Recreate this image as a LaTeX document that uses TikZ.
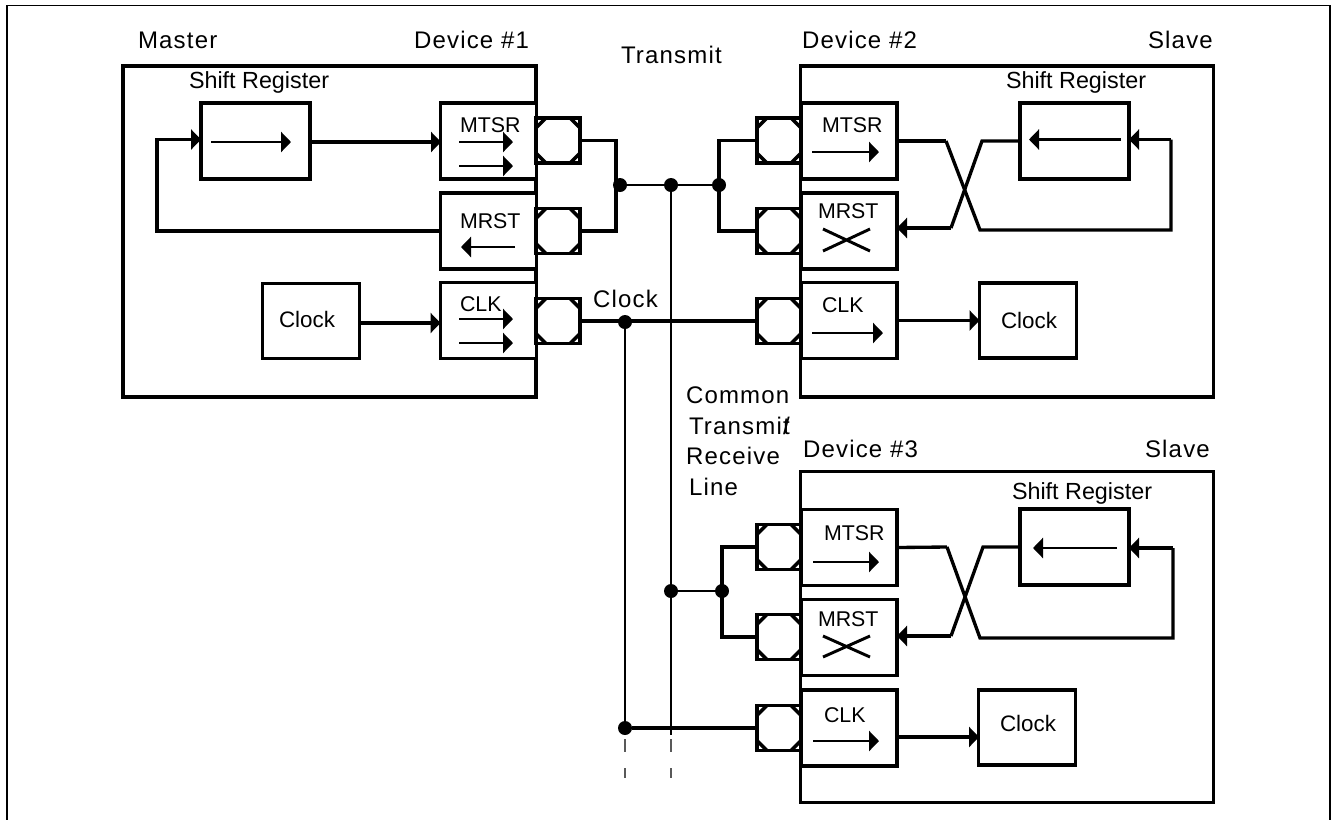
\documentclass[tikz,border=0pt]{standalone}
\usepackage{fontspec}
\setmainfont{Liberation Sans}
\usetikzlibrary{arrows.meta}
\tikzset{
  x=0.75pt,y=-0.75pt,
  wire/.style={line width=2.5pt,line join=miter},
  bus/.style={line width=2.1pt},
  arr/.style={line width=2.4pt,-{Triangle[length=7.5pt,width=15pt,sep=0pt]}},
  inner/.style={line width=2.2pt,-{Triangle[length=7.5pt,width=15pt]}},
  cross/.style={line width=2.2pt},
  devbox/.style={draw,line width=2.6pt,fill=white,minimum width=309.75pt,minimum height=248.25pt,inner sep=0pt,outer sep=0pt},
  regbox/.style={draw,line width=2.6pt,fill=white,minimum width=72pt,minimum height=57pt,inner sep=0pt,outer sep=0pt},
  srbox/.style={draw,line width=2.6pt,fill=white,minimum width=81.75pt,minimum height=57pt,inner sep=0pt,outer sep=0pt},
  clkbox/.style={draw,line width=2.6pt,fill=white,minimum width=72.75pt,minimum height=56.5pt,inner sep=0pt,outer sep=0pt},
  port/.style={draw,line width=2.6pt,fill=white,minimum width=33pt,minimum height=34pt,inner sep=0pt,outer sep=0pt,
    path picture={
      \draw[line width=2.6pt]
      ([xshift=7.5pt]path picture bounding box.south west)--([yshift=7.5pt]path picture bounding box.south west)
      ([xshift=-7.5pt]path picture bounding box.south east)--([yshift=7.5pt]path picture bounding box.south east)
      ([xshift=7.5pt]path picture bounding box.north west)--([yshift=-7.5pt]path picture bounding box.north west)
      ([xshift=-7.5pt]path picture bounding box.north east)--([yshift=-7.5pt]path picture bounding box.north east);
    }},
  dotn/.style={circle,fill=black,draw=none,minimum size=10.5pt,inner sep=0pt,outer sep=0pt},
  lab/.style={inner sep=0pt,outer sep=0pt,anchor=base west,font=\fontsize{18pt}{20pt}\selectfont\addfontfeature{LetterSpace=5}},
  reglab/.style={inner sep=0pt,outer sep=0pt,anchor=base west,font=\fontsize{16pt}{20pt}\selectfont},
  srlab/.style={inner sep=0pt,outer sep=0pt,anchor=base west,font=\fontsize{17.5pt}{20pt}\selectfont},
  clklab/.style={inner sep=0pt,outer sep=0pt,anchor=base west,font=\fontsize{16.8pt}{20pt}\selectfont},
  dashseg/.style={line width=0.8pt,draw=black!65},
}
\begin{document}
\begin{tikzpicture}
\useasboundingbox (0,0) rectangle (1332,819);
\fill[white] (0,0) rectangle (1332,819);
\draw[line width=0.9pt] (7,5.5) rectangle (1330,830);

% device frames
\node[devbox] (d1) at (329.5,231.5) {};
\node[devbox] (d2) at (1007,231.5) {};
\node[devbox] (d3) at (1007,637) {};

% --- Device 1
\node[regbox] (m1) at (488.5,141) {};
\node[regbox] (r1) at (488.5,231) {};
\node[regbox] (c1) at (488.5,320.5) {};
\node[srbox] (s1) at (255.5,141) {};
\node[clkbox] (k1) at (311,321) {};
\node[port] (pm1) at (558,140.5) {};
\node[port] (pr1) at (558,231) {};
\node[port] (pc1) at (558,321) {};

% --- Device 2
\node[regbox] (m2) at (849,141) {};
\node[regbox] (r2) at (849,231) {};
\node[regbox] (c2) at (849,320.5) {};
\node[srbox] (s2) at (1074.5,141) {};
\node[clkbox] (k2) at (1028,320.5) {};
\node[port] (pm2) at (779,140.5) {};
\node[port] (pr2) at (779,231) {};
\node[port] (pc2) at (779,321) {};

% --- Device 3
\node[regbox] (m3) at (849,547.5) {};
\node[regbox] (r3) at (849,637.5) {};
\node[regbox] (c3) at (849,728) {};
\node[srbox] (s3) at (1074.5,547) {};
\node[clkbox] (k3) at (1027,727.5) {};
\node[port] (pm3) at (779,547) {};
\node[port] (pr3) at (779,637) {};
\node[port] (pc3) at (779,728) {};

% junctions
\node[dotn] (j1) at (620,185) {};
\node[dotn] (j2) at (671,185) {};
\node[dotn] (j3) at (719,185) {};
\node[dotn] (j4) at (625,322) {};
\node[dotn] (j5) at (671,591) {};
\node[dotn] (j6) at (722,591) {};
\node[dotn] (j7) at (625,728) {};

% free ends
\coordinate (e1) at (625,735);
\coordinate (e2) at (671,735);
\coordinate (a1) at (157,139.5);
\coordinate (a2) at (157,231);
\coordinate (a3) at (359,323);
\coordinate (a4) at (441,142);
\coordinate (a5) at (311,142);

% wires device 1
\draw[arr] (a5) -- (a4);
\draw[arr] (r1.west) -- (a2) -- (a1) -- (s1.west |- a1);
\draw[arr] (a3) -- (c1.west |- a3);
\draw[wire] (pm1.east) -| (616,185) |- (pr1.east);

% bus
\draw[bus] (j1) -- (j2) -- (j3);
\draw[wire] (pc1.east) -- (pc2.west);
\draw[bus] (j4) -- (j7);
\draw[bus] (j2) -- (e2);
\draw[bus] (j5) -- (j6);
\draw[wire] (j7) -- (pc3.west);
\draw[wire] (pm2.west) -| (j3.center) |- (pr2.west);
\draw[wire] (pm3.west) -| (j6.center) |- (pr3.west);
\foreach \x in {625,671}{
  \draw[dashseg] (\x,739) -- (\x,752);
  \draw[dashseg] (\x,768) -- (\x,778);
}

% device 2 wiring
\coordinate (x1) at (946,141);
\coordinate (x2) at (980,230);
\coordinate (x3) at (1171,230);
\coordinate (x4) at (1171,139.5);
\coordinate (x5) at (982,141);
\coordinate (x6) at (951,228);
\draw[wire] (m2.east) -- (x1);
\draw[wire] (x1) -- (x2) -- (x3) -- (x4);
\draw[arr] (x4) -- (s2.east |- x4);
\draw[wire] (s2.west) -- (x5) -- (x6);
\draw[arr] (x6) -- (r2.east |- x6);
\draw[arr] (c2.east |- k2.west) -- (k2.west);

% device 3 wiring
\coordinate (y1) at (947,547);
\coordinate (y2) at (980,638);
\coordinate (y3) at (1173,638);
\coordinate (y4) at (1173,548);
\coordinate (y5) at (983,547);
\coordinate (y6) at (951,636);
\coordinate (y7) at (897,737);
\coordinate (y8) at (979,737);
\draw[wire] (m3.east) -- (y1);
\draw[wire] (y1) -- (y2) -- (y3) -- (y4);
\draw[arr] (y4) -- (s3.east |- y4);
\draw[wire] (s3.west) -- (y5) -- (y6);
\draw[arr] (y6) -- (r3.east |- y6);
\draw[arr] (y7) -- (y8);

% inner glyphs
\draw[inner] (211,142) -- (291,142);
\draw[inner] (459,142) -- (513,142);
\draw[inner] (459,166) -- (513,166);
\draw[inner] (515,247) -- (461,247);
\draw[inner] (459,319) -- (513,319);
\draw[inner] (459,343) -- (513,343);
\draw[inner] (812,152) -- (879,152);
\draw[inner] (812,333) -- (883,333);
\draw[inner] (1121,139.5) -- (1029,139.5);
\draw[cross] (823,229) -- (870,251) (823,251) -- (870,229);
\draw[inner] (813,562) -- (879,562);
\draw[inner] (813,741) -- (879,741);
\draw[inner] (1117,548) -- (1033,548);
\draw[cross] (823,636) -- (870,657) (823,657) -- (870,636);

% labels
\node[lab] (t1) at (138,48) {Master};
\node[lab] (t2) at (414,48) {Device \#1};
\node[lab] (t3) at (621,63) {Transmit};
\node[lab] (t4) at (802,48) {Device \#2};
\node[lab] (t5) at (1148,48) {Slave};
\node[srlab] (t6) at (189,88) {Shift Register};
\node[srlab] (t7) at (1006,88) {Shift Register};
\node[srlab] (t8) at (1012,499) {Shift Register};
\node[reglab] (t9) at (460,132) {MTSR};
\node[reglab] (t10) at (460,228) {MRST};
\node[reglab] (t11) at (460,311) {CLK};
\node[reglab] (t12) at (822,132) {MTSR};
\node[reglab] (t13) at (818,218) {MRST};
\node[reglab] (t14) at (822,312) {CLK};
\node[reglab] (t15) at (824,540) {MTSR};
\node[reglab] (t16) at (818,626) {MRST};
\node[reglab] (t17) at (824,722) {CLK};
\node[lab] (t18) at (593,307) {Clock};
\node[lab] (t19) at (686,403) {Common};
\node[lab] (t20) at (689,434) {Transmit\kern-5pt/};
\node[lab] (t21) at (803,457) {Device \#3};
\node[lab] (t22) at (1145,457) {Slave};
\node[lab] (t23) at (686,464) {Receive};
\node[lab] (t24) at (689,495) {Line};
\node[clklab] (t25) at (279,327) {Clock};
\node[clklab] (t26) at (1001,328) {Clock};
\node[clklab] (t27) at (1000,731) {Clock};
\end{tikzpicture}
\end{document}
